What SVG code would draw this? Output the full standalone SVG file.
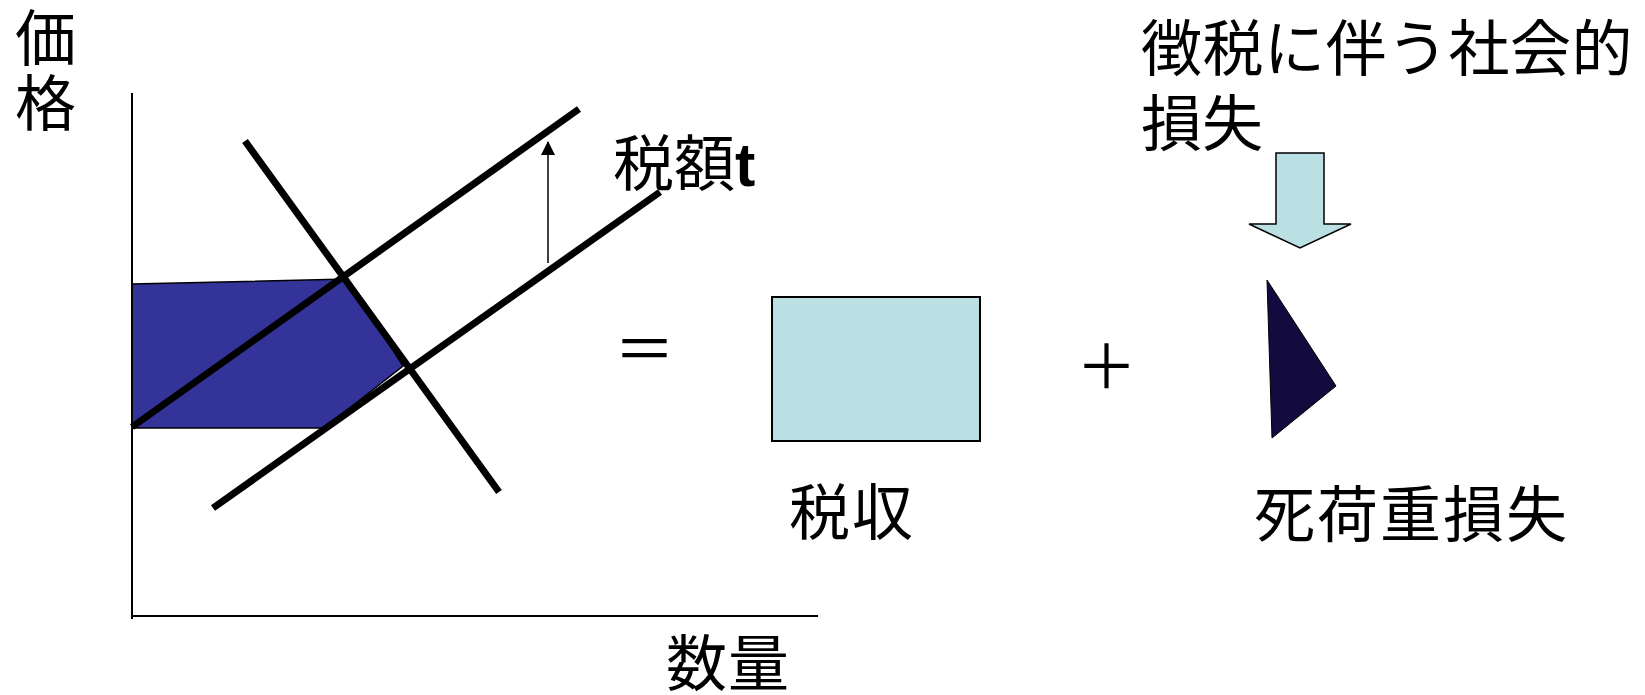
<svg xmlns="http://www.w3.org/2000/svg" width="1645" height="695" viewBox="0 0 1645 695">
<style>
.t{font-family:"Noto Sans CJK JP","Noto Sans CJK SC",sans-serif;font-size:61px;fill:#000}
.curve{stroke:#000;stroke-width:7;fill:none}
.axis{stroke:#000;stroke-width:2;fill:none}
</style>
<defs>
<marker id="ah" markerWidth="14" markerHeight="14" refX="13" refY="7" orient="auto" markerUnits="userSpaceOnUse" viewBox="0 0 14 14">
<path d="M0,0 L14,7 L0,14 Z" fill="#000"/>
</marker>
</defs>
<rect width="1645" height="695" fill="#fff"/>
<g id="surplus-area">
<polygon points="132,284 348,279 403,366 324,428 132,428" fill="#343399" stroke="#000" stroke-width="1.5"/>
</g>
<g id="axes">
<line class="axis" x1="132" y1="93" x2="132" y2="619"/>
<line class="axis" x1="131" y1="616" x2="818" y2="616"/>
</g>
<g id="connectors">
<line class="curve" x1="132" y1="427" x2="579" y2="109"/>
<line class="curve" x1="213" y1="508" x2="660" y2="192"/>
<line class="curve" x1="245" y1="141" x2="499" y2="492"/>
<line x1="548" y1="263" x2="548" y2="142" stroke="#000" stroke-width="1.5" marker-end="url(#ah)"/>
</g>
<g id="labels">
<text class="t" x="15" y="61">価</text>
<text class="t" x="15" y="126">格</text>
<text class="t" x="666" y="686" letter-spacing="1">数量</text>
<text class="t" x="613" y="186">税額<tspan font-family="Liberation Sans, sans-serif" font-weight="bold">t</tspan></text>
<text class="t" x="614" y="372">＝</text>
<text class="t" x="1076" y="389" font-size="64">＋</text>
</g>
<g id="tax-revenue">
<rect x="772" y="297" width="208" height="144" fill="#BAE0E3" stroke="#000" stroke-width="2"/>
<text class="t" x="789" y="535" letter-spacing="2">税収</text>
</g>
<g id="deadweight-loss">
<polygon points="1267,280 1336,386 1272,438" fill="#130A3D" stroke="#000" stroke-width="1"/>
<text class="t" x="1254" y="537" letter-spacing="2">死荷重損失</text>
</g>
<g id="social-loss">
<text class="t" x="1141" y="71" letter-spacing="0.5">徴税に伴う社会的</text>
<text class="t" x="1141" y="146">損失</text>
<polygon points="1276,153 1324,153 1324,224 1351,224 1300,248 1249,224 1276,224" fill="#BAE0E3" stroke="#000" stroke-width="1.5"/>
</g>
</svg>
